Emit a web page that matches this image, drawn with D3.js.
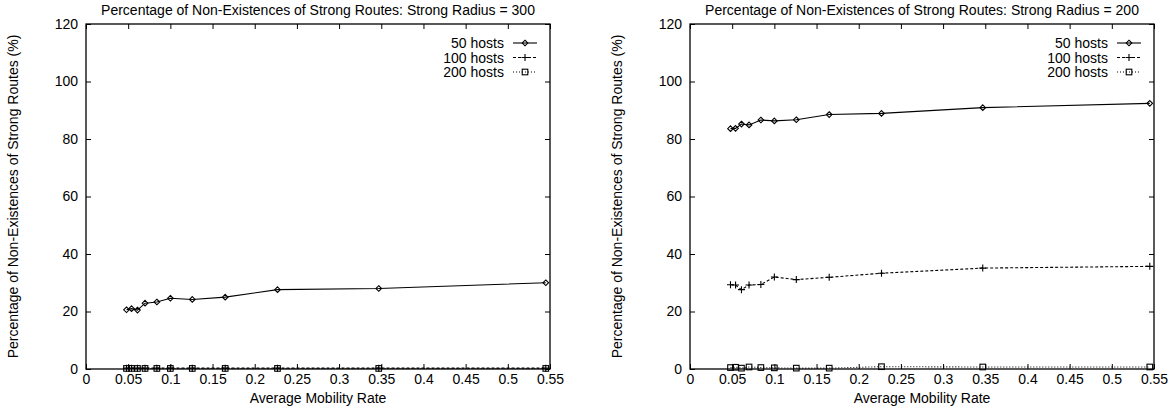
<!DOCTYPE html>
<html>
<head>
<meta charset="utf-8">
<script src="https://cdn.jsdelivr.net/npm/d3@7"></script>
<style>
    body { margin: 0; background: #fff; }
    text { font-family: "Liberation Sans", Arial, sans-serif; fill: #000; }
</style>
</head>
<body>
<div id="chart"></div>
<script>
// mobility rates (x) shared by all series
var rates = [0.048, 0.054, 0.061, 0.070, 0.084, 0.100, 0.126, 0.165, 0.227, 0.347, 0.545];

// strong radius = 300
var r300_50 = [20.6, 21.0, 20.5, 22.9, 23.3, 24.6, 24.2, 25.0, 27.6, 28.0, 30.0];
var r300_100 = [0.3, 0.3, 0.3, 0.3, 0.3, 0.3, 0.3, 0.3, 0.3, 0.3, 0.3];
var r300_200 = [0.2, 0.2, 0.2, 0.2, 0.2, 0.2, 0.2, 0.2, 0.2, 0.2, 0.2];

// strong radius = 200
var r200_50 = [83.6, 83.7, 85.2, 84.9, 86.6, 86.3, 86.7, 88.5, 88.9, 90.9, 92.4];
var r200_100 = [29.3, 29.2, 27.6, 29.2, 29.4, 32.0, 31.1, 31.9, 33.3, 35.1, 35.7];
var r200_200 = [0.5, 0.6, 0.3, 0.7, 0.5, 0.4, 0.3, 0.3, 0.8, 0.7, 0.7];

var seriesNames = ["50 hosts", "100 hosts", "200 hosts"];
var xTicks = [0, 0.05, 0.1, 0.15, 0.2, 0.25, 0.3, 0.35, 0.4, 0.45, 0.5, 0.55];
var yTicks = [0, 20, 40, 60, 80, 100, 120];
var titles = ["Percentage of Non-Existences of Strong Routes: Strong Radius = 300",
              "Percentage of Non-Existences of Strong Routes: Strong Radius = 200"];
var xLabel = "Average Mobility Rate";
var yLabel = "Percentage of Non-Existences of Strong Routes (%)";

function init() {
    var W = 1172, H = 408;
    var top = 24, ph = 345, pw = 464;
    var lefts = [86, 690];
    var fs = "14px";

    var svg = d3.select("#chart").append("svg")
        .attr("width", W).attr("height", H);

    var styles = [
        { dash: null, marker: "diamond" },
        { dash: "3,2", marker: "plus" },
        { dash: "1,2", marker: "square" }
    ];

    var panels = [
        [r300_50, r300_100, r300_200],
        [r200_50, r200_100, r200_200]
    ];

    function drawMarker(g, type, x, y) {
        if (type === "diamond") {
            g.append("path")
                .attr("d", "M" + x + "," + (y - 2.8) + "L" + (x + 2.8) + "," + y +
                           "L" + x + "," + (y + 2.8) + "L" + (x - 2.8) + "," + y + "Z")
                .attr("fill", "none").attr("stroke", "#000").attr("stroke-width", 1.1);
        } else if (type === "plus") {
            g.append("path")
                .attr("d", "M" + (x - 3.5) + "," + y + "H" + (x + 3.5) + "M" + x + "," + (y - 3.5) + "V" + (y + 3.5))
                .attr("fill", "none").attr("stroke", "#000").attr("stroke-width", 1.1);
        } else {
            g.append("rect")
                .attr("x", x - 2.8).attr("y", y - 2.8).attr("width", 5.6).attr("height", 5.6)
                .attr("fill", "none").attr("stroke", "#000").attr("stroke-width", 1.1);
        }
    }

    panels.forEach(function(data, p) {
        var g = svg.append("g")
            .attr("transform", "translate(" + lefts[p] + "," + top + ")");

        var xScale = d3.scaleLinear().domain([0, 0.55]).range([0, pw]);
        var yScale = d3.scaleLinear().domain([0, 120]).range([ph, 0]);

        // axes, ticks pointing inward (gnuplot style)
        var xAxis = d3.axisBottom(xScale).tickValues(xTicks).tickSizeInner(-5).tickSizeOuter(0)
            .tickPadding(5).tickFormat(function(d) { return d3.format("~g")(d); });
        var gx = g.append("g").attr("transform", "translate(0," + ph + ")").call(xAxis);
        var gxt = g.append("g").call(d3.axisTop(xScale).tickValues(xTicks).tickSizeInner(-5).tickSizeOuter(0).tickFormat(""));
        var yAxis = d3.axisLeft(yScale).tickValues(yTicks).tickSizeInner(-5).tickSizeOuter(0).tickPadding(8);
        var gy = g.append("g").call(yAxis);
        var gyr = g.append("g").attr("transform", "translate(" + pw + ",0)")
            .call(d3.axisRight(yScale).tickValues(yTicks).tickSizeInner(-5).tickSizeOuter(0).tickFormat(""));

        [gx, gxt, gy, gyr].forEach(function(a) {
            a.select(".domain").remove();
            a.selectAll("text").style("font-size", fs).style("font-family", "'Liberation Sans', Arial, sans-serif");
            a.selectAll("line").attr("stroke", "#000");
        });

        // frame
        g.append("rect").attr("x", 0).attr("y", 0).attr("width", pw).attr("height", ph)
            .attr("fill", "none").attr("stroke", "#000").attr("stroke-width", 1.3);

        // series
        var line = d3.line()
            .x(function(d) { return xScale(d[0]); })
            .y(function(d) { return yScale(d[1]); });

        data.forEach(function(vals, s) {
            var pts = rates.map(function(r, i) { return [r, vals[i]]; });
            g.append("path").datum(pts)
                .attr("d", line)
                .attr("fill", "none")
                .attr("stroke", "#000")
                .attr("stroke-width", 1.1)
                .attr("stroke-dasharray", styles[s].dash);
            pts.forEach(function(d) {
                drawMarker(g, styles[s].marker, xScale(d[0]), yScale(d[1]));
            });
        });

        // legend
        seriesNames.forEach(function(name, s) {
            var ly = 19 + s * 14.5;
            g.append("text")
                .attr("x", pw - 46).attr("y", ly + 5)
                .attr("text-anchor", "end")
                .style("font-size", fs)
                .text(name);
            g.append("line")
                .attr("x1", pw - 37).attr("x2", pw - 13)
                .attr("y1", ly).attr("y2", ly)
                .attr("stroke", "#000").attr("stroke-width", 1.1)
                .attr("stroke-dasharray", styles[s].dash);
            drawMarker(g, styles[s].marker, pw - 25, ly);
        });

        // title
        g.append("text")
            .attr("x", pw / 2).attr("y", -9)
            .attr("text-anchor", "middle")
            .style("font-size", fs)
            .text(titles[p]);

        // x label
        g.append("text")
            .attr("x", pw / 2).attr("y", ph + 34)
            .attr("text-anchor", "middle")
            .style("font-size", fs)
            .text(xLabel);

        // y label
        g.append("text")
            .attr("transform", "translate(-68," + (ph / 2) + ") rotate(-90)")
            .attr("text-anchor", "middle")
            .style("font-size", fs)
            .text(yLabel);
    });
}

window.onload = init;
</script>
</body>
</html>
